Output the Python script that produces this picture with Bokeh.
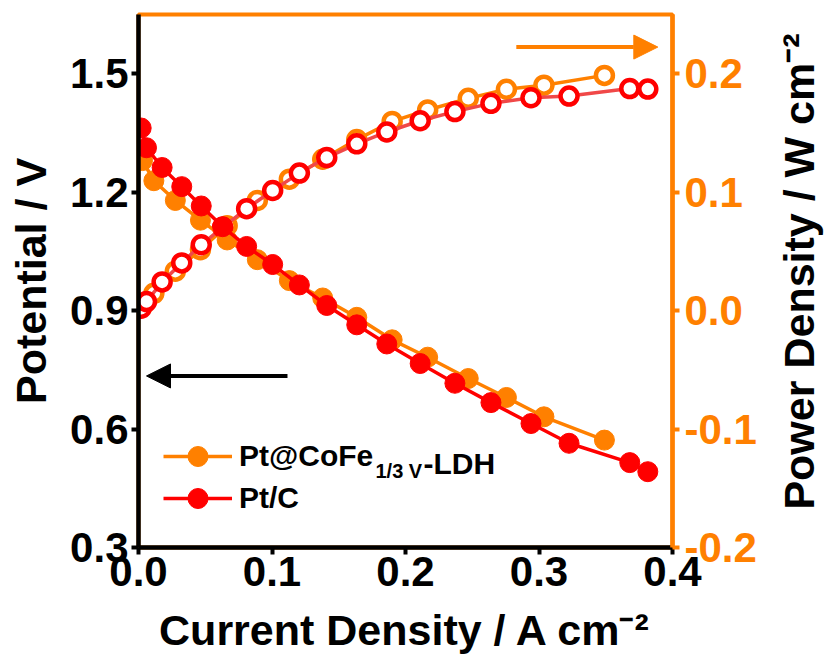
import math
from bokeh.plotting import figure
from bokeh.layouts import row
from bokeh.models import (Range1d, LinearAxis, FixedTicker, PrintfTickFormatter,
                          Arrow, NormalHead, Legend, LegendItem, Label)
from bokeh.embed import file_html
from bokeh.resources import INLINE

# ---------------- data ----------------
ptc_current = [0.002, 0.006, 0.0177, 0.0324, 0.047, 0.063, 0.081, 0.1005, 0.1205, 0.141,
               0.1635, 0.186, 0.211, 0.237, 0.264, 0.294, 0.3225, 0.368, 0.3815]
ptc_potential = [1.3625, 1.3125, 1.2625, 1.214, 1.165, 1.1125, 1.0625, 1.0167, 0.965, 0.913,
                 0.864, 0.8155, 0.766, 0.716, 0.667, 0.614, 0.564, 0.515, 0.492]
ptc_power = [0.002, 0.0076, 0.0242, 0.0403, 0.0556, 0.0703, 0.0861, 0.1014, 0.1161, 0.1292,
             0.1408, 0.1508, 0.1603, 0.168, 0.175, 0.1797, 0.1811, 0.1875, 0.187]

ldh_current = [0.003, 0.0115, 0.0276, 0.0464, 0.0664, 0.089, 0.113, 0.138, 0.1635, 0.19,
               0.2166, 0.247, 0.2756, 0.3037, 0.349]
ldh_potential = [1.28, 1.229, 1.179, 1.129, 1.079, 1.029, 0.976, 0.932, 0.883, 0.826,
                 0.782, 0.728, 0.68, 0.631, 0.572]
ldh_power = [0.004, 0.0146, 0.0333, 0.0514, 0.0717, 0.093, 0.111, 0.1278, 0.1444, 0.1597,
             0.1694, 0.1792, 0.1869, 0.1903, 0.1986]

x_ticks = [0.0, 0.1, 0.2, 0.3, 0.4]
v_ticks = [0.3, 0.6, 0.9, 1.2, 1.5]
p_ticks = [-0.2, -0.1, 0.0, 0.1, 0.2]

series_names = ["Pt@CoFe", "Pt/C"]
ldh_sub = "1/3 V"
ldh_tail = "-LDH"
x_title = "Current Density / A cm\u207b\u00b2"
y_title = "Potential / V"
y2_title = "Power Density / W cm\u207b\u00b2"

ORANGE = "#FF8000"
RED = "#FF0000"
PD_RED = "#F04848"
FONT = "Liberation Sans"

p = figure(frame_width=534, frame_height=533, title=None,
           x_range=Range1d(0, 0.4), y_range=Range1d(0.3, 1.65),
           output_backend="svg", toolbar_location=None,
           min_border_left=138, min_border_right=95, min_border_top=14, min_border_bottom=105)
p.extra_y_ranges = {"pd": Range1d(-0.2, 0.25)}

p.xgrid.visible = False
p.ygrid.visible = False
p.outline_line_color = ORANGE
p.outline_line_width = 4
p.background_fill_color = "white"
p.border_fill_color = "white"

right = LinearAxis(y_range_name="pd")
p.add_layout(right, "right")

def style_axis(ax, color, ticks, label, standoff, lab_standoff):
    ax.ticker = FixedTicker(ticks=ticks)
    ax.formatter = PrintfTickFormatter(format="%.1f")
    ax.axis_line_color = color
    ax.axis_line_width = 4.5
    ax.major_tick_line_color = color
    ax.major_tick_line_width = 4
    ax.major_tick_out = 7
    ax.major_tick_in = 0
    ax.minor_tick_line_color = None
    ax.major_label_text_font = FONT
    ax.major_label_text_font_style = "bold"
    ax.major_label_text_font_size = "42px"
    ax.major_label_text_color = color
    ax.major_label_standoff = standoff
    ax.axis_label = label
    ax.axis_label_text_font = FONT
    ax.axis_label_text_font_style = "bold"
    ax.axis_label_text_font_size = "43px"
    ax.axis_label_text_color = "black"
    ax.axis_label_standoff = lab_standoff

style_axis(p.xaxis[0], "black", x_ticks, x_title, 2, 17)
style_axis(p.yaxis[0], "black", v_ticks, y_title, 3, 12)
style_axis(right, ORANGE, p_ticks, None, 5, 0)

# ---------------- power density (open circles, right axis) ----------------
p.line(ldh_current, ldh_power, y_range_name="pd", line_color=ORANGE, line_width=3.5)
p.scatter(ldh_current, ldh_power, y_range_name="pd", marker="circle", size=17,
          fill_color="white", line_color=ORANGE, line_width=4.5)
p.line(ptc_current, ptc_power, y_range_name="pd", line_color=PD_RED, line_width=3.5)
p.scatter(ptc_current, ptc_power, y_range_name="pd", marker="circle", size=17,
          fill_color="white", line_color=RED, line_width=4.5)

# ---------------- polarization (filled circles, left axis) ----------------
l1 = p.line(ldh_current, ldh_potential, line_color=ORANGE, line_width=3.5)
s1 = p.scatter(ldh_current, ldh_potential, marker="circle", size=20,
               fill_color=ORANGE, line_color=ORANGE)
l2 = p.line(ptc_current, ptc_potential, line_color=RED, line_width=3.5)
s2 = p.scatter(ptc_current, ptc_potential, marker="circle", size=20,
               fill_color=RED, line_color=RED)

# ---------------- arrows ----------------
p.add_layout(Arrow(end=NormalHead(size=24, fill_color=ORANGE, line_color=ORANGE),
                   x_start=0.283, y_start=0.2225, x_end=0.389, y_end=0.2225,
                   y_range_name="pd", line_color=ORANGE, line_width=4))
p.add_layout(Arrow(end=NormalHead(size=24, fill_color="black", line_color="black"),
                   x_start=0.1116, y_start=0.7345, x_end=0.006, y_end=0.7345,
                   line_color="black", line_width=4))

# ---------------- legend ----------------
def make_legend(name, rens, loc):
    lg = Legend(items=[LegendItem(label=name, renderers=rens)], location=loc,
                padding=0, margin=0, border_line_color=None, background_fill_alpha=0,
                glyph_width=69, glyph_height=50, label_height=50, label_standoff=7,
                label_text_font=FONT, label_text_font_style="bold",
                label_text_font_size="30px", label_text_color="black")
    p.add_layout(lg)

make_legend(series_names[0], [l1, s1], (25, 66))
make_legend(series_names[1], [l2, s2], (25, 24))

p.add_layout(Label(x=0.1775, y=0.495, text=ldh_sub, text_font=FONT, text_font_style="bold",
                   text_font_size="20px", text_baseline="alphabetic", text_color="black"))
p.add_layout(Label(x=0.2135, y=0.5128, text=ldh_tail, text_font=FONT, text_font_style="bold",
                   text_font_size="30px", text_baseline="alphabetic", text_color="black"))

# ---------------- right-hand title panel (reads bottom-to-top) ----------------
PW, PH = 62, 652
q = figure(frame_width=PW, frame_height=PH, title=None,
           x_range=Range1d(0, PW), y_range=Range1d(0, PH),
           output_backend="svg", toolbar_location=None,
           min_border_left=0, min_border_right=0, min_border_top=0, min_border_bottom=0)
q.axis.visible = False
q.grid.visible = False
q.outline_line_color = None
q.background_fill_color = "white"
q.border_fill_color = "white"
q.add_layout(Label(x=31, y=PH - 257, text=y2_title, angle=math.pi / 2,
                   text_align="center", text_baseline="alphabetic", text_font=FONT,
                   text_font_style="bold", text_font_size="43px", text_color="black"))

layout = row(p, q, spacing=0)
open("out.html", "w").write(file_html(layout, INLINE))
